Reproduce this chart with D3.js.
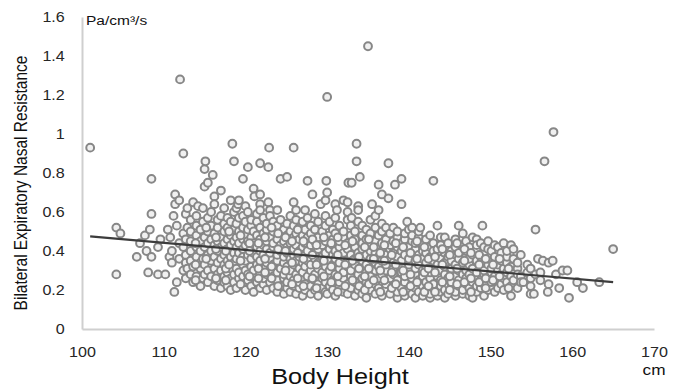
<!DOCTYPE html>
<html>
<head>
<meta charset="utf-8">
<script src="https://cdn.jsdelivr.net/npm/d3@7"></script>
<style>
  body { margin: 0; background: #fff; }
  svg { display: block; font-family: "Liberation Sans", Arial, sans-serif; }
</style>
</head>
<body>
<svg id="chart" width="683" height="389"></svg>
<script>
// body height (cm) -> readings of bilateral expiratory nasal resistance
const highValues = [
  [101.0, [0.93]], [112.0, [1.28]], [112.4, [0.90]], [118.4, [0.95]],
  [122.9, [0.93]], [125.9, [0.93]], [130.0, [1.19]], [133.6, [0.95, 0.86]],
  [135.0, [1.45]], [137.5, [0.85]], [156.6, [0.86]], [157.7, [1.01]]
];

const sparseLeft = [
  [104.2, [0.28, 0.52]], [104.7, [0.49]], [106.7, [0.37]], [107.1, [0.44]],
  [107.7, [0.48]], [107.9, [0.40]], [108.1, [0.29]], [108.3, [0.51]],
  [108.5, [0.37, 0.59, 0.77]], [109.3, [0.28, 0.42]], [109.6, [0.46]],
  [110.2, [0.28]], [110.5, [0.51]], [110.7, [0.37]], [110.8, [0.47]],
  [111.0, [0.34, 0.40]], [111.2, [0.58]], [111.3, [0.19]], [111.4, [0.64, 0.69]],
  [111.6, [0.24, 0.53]], [111.9, [0.66, 0.44, 0.36]]
];

const cloud = [
  [112.4, [0.30, 0.42, 0.49]],
  [112.7, [0.59, 0.26, 0.34, 0.38, 0.46]],
  [112.9, [0.62, 0.52, 0.31]],
  [113.3, [0.28, 0.35, 0.40, 0.45, 0.50, 0.56]],
  [113.6, [0.65, 0.24, 0.32]],
  [114.0, [0.27, 0.37, 0.42, 0.48, 0.53, 0.58]],
  [114.2, [0.63]],
  [114.5, [0.22, 0.31, 0.34, 0.40, 0.45, 0.51]],
  [114.8, [0.62, 0.26, 0.36, 0.55]],
  [115.0, [0.73, 0.82, 0.28, 0.33, 0.42, 0.47]],
  [115.1, [0.86]],
  [115.4, [0.75, 0.24, 0.30, 0.38, 0.44, 0.50, 0.57]],
  [115.8, [0.27, 0.35, 0.40, 0.46, 0.53, 0.60]],
  [116.0, [0.79]],
  [116.2, [0.68, 0.64, 0.22, 0.31, 0.37, 0.43, 0.49]],
  [116.6, [0.25, 0.28, 0.34, 0.40, 0.45, 0.52, 0.56]],
  [117.0, [0.21, 0.30, 0.36, 0.42, 0.47, 0.58, 0.71]],
  [117.4, [0.24, 0.27, 0.33, 0.38, 0.44, 0.50, 0.54, 0.62]],
  [117.8, [0.22, 0.29, 0.35, 0.41, 0.46, 0.52, 0.57]],
  [118.2, [0.20, 0.26, 0.31, 0.37, 0.43, 0.48, 0.55, 0.66]],
  [118.6, [0.86, 0.24, 0.28, 0.34, 0.39, 0.45, 0.51, 0.60]],
  [118.9, [0.62, 0.21, 0.31, 0.36, 0.42, 0.47, 0.54]],
  [119.1, [0.64]],
  [119.2, [0.66, 0.26, 0.29, 0.39, 0.44, 0.50, 0.57]],
  [119.7, [0.77, 0.22, 0.27, 0.33, 0.37, 0.41, 0.46, 0.52, 0.58]],
  [120.0, [0.20, 0.30, 0.35, 0.43, 0.48, 0.55, 0.63]],
  [120.3, [0.83, 0.25, 0.28, 0.38, 0.45, 0.51, 0.60]],
  [120.7, [0.22, 0.32, 0.36, 0.41, 0.47, 0.53, 0.56]],
  [121.0, [0.72, 0.19, 0.27, 0.30, 0.39, 0.44, 0.50]],
  [121.1, [0.68]],
  [121.4, [0.24, 0.33, 0.37, 0.42, 0.48, 0.55, 0.59]],
  [121.8, [0.85, 0.69, 0.64, 0.61, 0.21, 0.29, 0.35, 0.40, 0.46, 0.52]],
  [122.2, [0.23, 0.26, 0.31, 0.38, 0.43, 0.49, 0.57]],
  [122.6, [0.20, 0.28, 0.34, 0.41, 0.45, 0.51, 0.54]],
  [122.8, [0.83, 0.65]],
  [123.0, [0.61, 0.24, 0.30, 0.36, 0.39, 0.47, 0.58]],
  [123.4, [0.21, 0.27, 0.33, 0.42, 0.44, 0.50, 0.55]],
  [123.9, [0.61, 0.19, 0.25, 0.29, 0.35, 0.38, 0.46, 0.53]],
  [124.3, [0.77, 0.22, 0.31, 0.40, 0.43, 0.49, 0.56]],
  [124.7, [0.18, 0.26, 0.28, 0.34, 0.37, 0.45, 0.51]],
  [125.1, [0.78, 0.21, 0.24, 0.32, 0.39, 0.42, 0.48, 0.54]],
  [125.5, [0.58, 0.19, 0.27, 0.30, 0.36, 0.44, 0.50]],
  [125.9, [0.65, 0.22, 0.25, 0.33, 0.38, 0.41, 0.47, 0.53]],
  [126.2, [0.61, 0.18, 0.28, 0.35, 0.43, 0.49, 0.56]],
  [126.6, [0.21, 0.24, 0.31, 0.37, 0.40, 0.46, 0.52]],
  [127.0, [0.17, 0.26, 0.29, 0.34, 0.42, 0.48, 0.55]],
  [127.3, [0.61, 0.20, 0.23, 0.32, 0.38, 0.44, 0.51]],
  [127.6, [0.76, 0.27, 0.35, 0.40, 0.47, 0.57]],
  [128.0, [0.18, 0.22, 0.30, 0.33, 0.43, 0.49, 0.53]],
  [128.2, [0.69]],
  [128.5, [0.20, 0.25, 0.28, 0.36, 0.39, 0.45, 0.51, 0.59]],
  [128.9, [0.17, 0.23, 0.31, 0.34, 0.41, 0.47, 0.55]],
  [129.2, [0.64]],
  [129.4, [0.21, 0.26, 0.29, 0.37, 0.43, 0.50]],
  [129.8, [0.66, 0.19, 0.24, 0.32, 0.39, 0.45, 0.53, 0.58]],
  [129.9, [0.76]],
  [130.0, [0.70, 0.18]],
  [130.3, [0.22, 0.27, 0.30, 0.35, 0.41, 0.48, 0.55]],
  [130.7, [0.20, 0.25, 0.33, 0.38, 0.43, 0.46, 0.51]],
  [131.0, [0.64, 0.17, 0.28, 0.36, 0.40, 0.49, 0.57]],
  [131.2, [0.61]],
  [131.5, [0.22, 0.24, 0.31, 0.34, 0.42, 0.45, 0.53]],
  [132.0, [0.66, 0.19, 0.26, 0.29, 0.37, 0.39, 0.47, 0.50]],
  [132.5, [0.65, 0.56, 0.18, 0.23, 0.32, 0.35, 0.41, 0.44, 0.60]],
  [132.6, [0.75]],
  [132.9, [0.21, 0.27, 0.30, 0.38, 0.48, 0.53]],
  [133.0, [0.75, 0.57]],
  [133.4, [0.17, 0.24, 0.33, 0.36, 0.42, 0.46, 0.50]],
  [133.8, [0.63, 0.61, 0.20, 0.28, 0.39, 0.55]],
  [134.0, [0.78]],
  [134.3, [0.53, 0.18, 0.22, 0.26, 0.31, 0.35, 0.41, 0.44, 0.48]],
  [134.8, [0.16, 0.24, 0.29, 0.33, 0.38, 0.46, 0.51]],
  [135.3, [0.20, 0.27, 0.36, 0.40, 0.43, 0.49, 0.56]],
  [135.5, [0.64]],
  [135.9, [0.58, 0.18, 0.23, 0.30, 0.34, 0.39, 0.45, 0.52]],
  [136.3, [0.74, 0.61, 0.21, 0.26, 0.32, 0.37, 0.42, 0.48]],
  [136.7, [0.69, 0.17, 0.28, 0.35, 0.40, 0.44, 0.50, 0.54]],
  [137.2, [0.20, 0.23, 0.30, 0.33, 0.38, 0.46, 0.52]],
  [137.5, [0.67]],
  [137.7, [0.18, 0.26, 0.36, 0.41, 0.43, 0.49]],
  [138.1, [0.52, 0.22, 0.28, 0.31, 0.34, 0.39, 0.45]],
  [138.3, [0.74]],
  [138.6, [0.16, 0.19, 0.25, 0.37, 0.42, 0.47, 0.50]],
  [139.1, [0.77, 0.64, 0.21, 0.29, 0.32, 0.35, 0.40, 0.44]],
  [139.5, [0.17, 0.24, 0.27, 0.38, 0.46, 0.49]],
  [139.8, [0.55]],
  [140.0, [0.20, 0.30, 0.33, 0.36, 0.42, 0.51]],
  [140.4, [0.52, 0.18, 0.23, 0.26, 0.39, 0.45, 0.48]],
  [140.8, [0.16, 0.21, 0.28, 0.31, 0.35, 0.41, 0.44]],
  [141.2, [0.19, 0.25, 0.33, 0.38, 0.47, 0.50]],
  [141.4, [0.52]],
  [141.7, [0.17, 0.22, 0.27, 0.30, 0.36, 0.40, 0.43]],
  [142.1, [0.20, 0.24, 0.32, 0.34, 0.39, 0.46]],
  [142.6, [0.16, 0.18, 0.26, 0.29, 0.37, 0.42, 0.48]],
  [143.0, [0.76, 0.21, 0.23, 0.31, 0.35, 0.40, 0.44]],
  [143.5, [0.53, 0.17, 0.27, 0.33, 0.38, 0.41]],
  [143.9, [0.47, 0.19, 0.22, 0.25, 0.30, 0.36, 0.43]],
  [144.4, [0.47, 0.16, 0.20, 0.28, 0.32, 0.34, 0.39]],
  [144.8, [0.18, 0.23, 0.26, 0.37, 0.41, 0.44]],
  [145.2, [0.21, 0.24, 0.29, 0.31, 0.35, 0.40]],
  [145.7, [0.17, 0.19, 0.27, 0.33, 0.38, 0.42, 0.46]],
  [146.1, [0.53, 0.22, 0.25, 0.30, 0.36, 0.39]],
  [146.6, [0.18, 0.20, 0.28, 0.32, 0.34, 0.43, 0.49]],
  [147.0, [0.23, 0.26, 0.30, 0.37, 0.40, 0.45]],
  [147.4, [0.17, 0.21, 0.28, 0.33, 0.36, 0.42]],
  [147.8, [0.16, 0.24, 0.31, 0.38, 0.47]],
  [148.3, [0.46, 0.19, 0.22, 0.26, 0.29, 0.35, 0.40, 0.43]],
  [148.8, [0.21, 0.25, 0.32, 0.37, 0.44]],
  [149.0, [0.53]],
  [149.2, [0.17, 0.23, 0.28, 0.30, 0.34, 0.39, 0.42]],
  [149.7, [0.20, 0.26, 0.33, 0.36, 0.41, 0.45]],
  [150.1, [0.22, 0.24, 0.29, 0.31, 0.38, 0.40]],
  [150.5, [0.19, 0.27, 0.34, 0.37, 0.43]],
  [150.9, [0.42, 0.21, 0.25, 0.30, 0.33]],
  [151.3, [0.23, 0.28, 0.35, 0.39]],
  [151.6, [0.44, 0.20, 0.26, 0.31]],
  [152.0, [0.24, 0.29, 0.34, 0.37, 0.40]],
  [152.5, [0.43, 0.17, 0.22, 0.27, 0.32]],
  [152.8, [0.25, 0.36, 0.41]]
];

// overlapping readings packed inside the dense core
const cloudCore = [
  [113.9, [0.25, 0.33, 0.44]], [115.2, [0.36, 0.52]], [116.4, [0.26, 0.41, 0.47]],
  [117.6, [0.25, 0.31, 0.40]], [118.0, [0.33, 0.50]], [119.4, [0.23, 0.35, 0.48]],
  [120.5, [0.27, 0.40, 0.44]], [121.6, [0.26, 0.31, 0.44]], [122.4, [0.29, 0.36, 0.47]],
  [123.2, [0.26, 0.32, 0.52]], [124.0, [0.22, 0.41, 0.49]], [124.9, [0.30, 0.40, 0.47]],
  [125.7, [0.23, 0.34, 0.45]], [126.4, [0.26, 0.39, 0.51]], [127.1, [0.22, 0.36, 0.45]],
  [128.2, [0.26, 0.38, 0.46]], [128.7, [0.21, 0.33, 0.43]], [129.6, [0.27, 0.35, 0.47]],
  [130.5, [0.24, 0.32, 0.44]], [131.3, [0.19, 0.27, 0.38, 0.47]], [132.2, [0.22, 0.33, 0.43]],
  [133.1, [0.25, 0.35, 0.45]], [133.9, [0.22, 0.31, 0.37]], [134.6, [0.20, 0.27, 0.42]],
  [135.1, [0.23, 0.31, 0.46]], [135.7, [0.25, 0.36, 0.42]], [136.5, [0.19, 0.30, 0.39]],
  [137.0, [0.25, 0.35, 0.43]], [137.9, [0.21, 0.29, 0.38]], [138.4, [0.23, 0.33, 0.44]],
  [139.3, [0.19, 0.30, 0.42]], [140.2, [0.22, 0.28, 0.39]], [141.0, [0.24, 0.36, 0.45]],
  [141.9, [0.19, 0.29, 0.42]], [142.4, [0.22, 0.31, 0.36]], [143.2, [0.19, 0.29, 0.37]],
  [144.1, [0.24, 0.33, 0.41]], [145.0, [0.20, 0.27, 0.38]], [145.9, [0.23, 0.31, 0.44]],
  [146.8, [0.24, 0.35, 0.41]], [147.6, [0.19, 0.26, 0.39]], [148.6, [0.24, 0.33, 0.38]],
  [149.4, [0.21, 0.26, 0.36]], [150.3, [0.25, 0.33]], [151.1, [0.27, 0.36]],
  [152.2, [0.21, 0.31]]
];

const sparseRight = [
  [153.3, [0.31, 0.21, 0.28, 0.34]], [153.7, [0.27, 0.24, 0.38]], [154.0, [0.24]],
  [154.5, [0.29, 0.33]], [154.9, [0.31, 0.18, 0.22, 0.26]], [155.3, [0.18]],
  [155.5, [0.51, 0.28]], [155.8, [0.36]], [156.1, [0.29, 0.25]], [156.4, [0.35]],
  [157.0, [0.19]], [157.1, [0.34, 0.23]], [157.6, [0.35]], [158.0, [0.28]],
  [158.4, [0.21]], [158.8, [0.30]], [159.4, [0.30]], [159.6, [0.16]],
  [160.6, [0.24]], [161.3, [0.21]], [163.3, [0.24]], [165.0, [0.41]]
];

// fitted line as drawn in the figure: [height, resistance]
const trendLine = [[101, 0.475], [165, 0.24]];

const xTicks = [100, 110, 120, 130, 140, 150, 160, 170];
const yTicks = [0, 0.2, 0.4, 0.6, 0.8, 1, 1.2, 1.4, 1.6];

const stretch = 'scale(1.15,1)';
const svg = d3.select('#chart');

const x = d3.scaleLinear().domain([100, 170]).range([82, 654]);
const y = d3.scaleLinear().domain([0, 1.6]).range([329, 17]);

const points = [];
[highValues, sparseLeft, cloud, cloudCore, sparseRight].forEach(group => {
  group.forEach(([h, vals]) => {
    vals.forEach(v => points.push({ h: h, v: v }));
  });
});

// axes
const xAxis = svg
  .append('g')
  .attr('transform', 'translate(0,' + y(0) + ')')
  .call(
    d3.axisBottom(x)
      .tickValues(xTicks)
      .tickSize(0)
      .tickPadding(18)
      .tickFormat(d3.format('d'))
  );

const yAxis = svg
  .append('g')
  .attr('transform', 'translate(' + x(100) + ',0)')
  .call(
    d3.axisLeft(y)
      .tickValues(yTicks)
      .tickSize(0)
      .tickPadding(15)
      .tickFormat(d => String(d))
  );

[xAxis, yAxis].forEach(ax => {
  ax.select('.domain').attr('stroke', '#cfcfcf').attr('stroke-width', 2);
  ax.selectAll('text')
    .attr('fill', '#262626')
    .style('font-size', '14px')
    .attr('transform', stretch);
});

// markers
svg
  .append('g')
  .attr('class', 'points')
  .selectAll('circle')
  .data(points)
  .enter()
  .append('circle')
  .attr('cx', d => x(d.h))
  .attr('cy', d => y(d.v))
  .attr('r', 3.9)
  .attr('fill', '#f0f0f0')
  .attr('stroke', '#878787')
  .attr('stroke-width', 2);

// trend line
svg
  .append('path')
  .datum(trendLine)
  .attr('fill', 'none')
  .attr('stroke', '#3c3c3c')
  .attr('stroke-width', 2.2)
  .attr('d', d3.line().x(d => x(d[0])).y(d => y(d[1])));

// labels
svg
  .append('text')
  .attr('transform', 'translate(86,25) ' + stretch)
  .attr('fill', '#111')
  .style('font-size', '13.5px')
  .text('Pa/cm³/s');

svg
  .append('text')
  .attr('transform', 'translate(27,183) ' + stretch + ' rotate(-90)')
  .attr('text-anchor', 'middle')
  .attr('fill', '#111')
  .style('font-size', '15.5px')
  .text('Bilateral Expiratory Nasal Resistance');

svg
  .append('text')
  .attr('transform', 'translate(340,384) ' + stretch)
  .attr('text-anchor', 'middle')
  .attr('fill', '#111')
  .style('font-size', '22px')
  .text('Body Height');

svg
  .append('text')
  .attr('transform', 'translate(654,375) ' + stretch)
  .attr('text-anchor', 'middle')
  .attr('fill', '#111')
  .style('font-size', '15px')
  .text('cm');
</script>
</body>
</html>
